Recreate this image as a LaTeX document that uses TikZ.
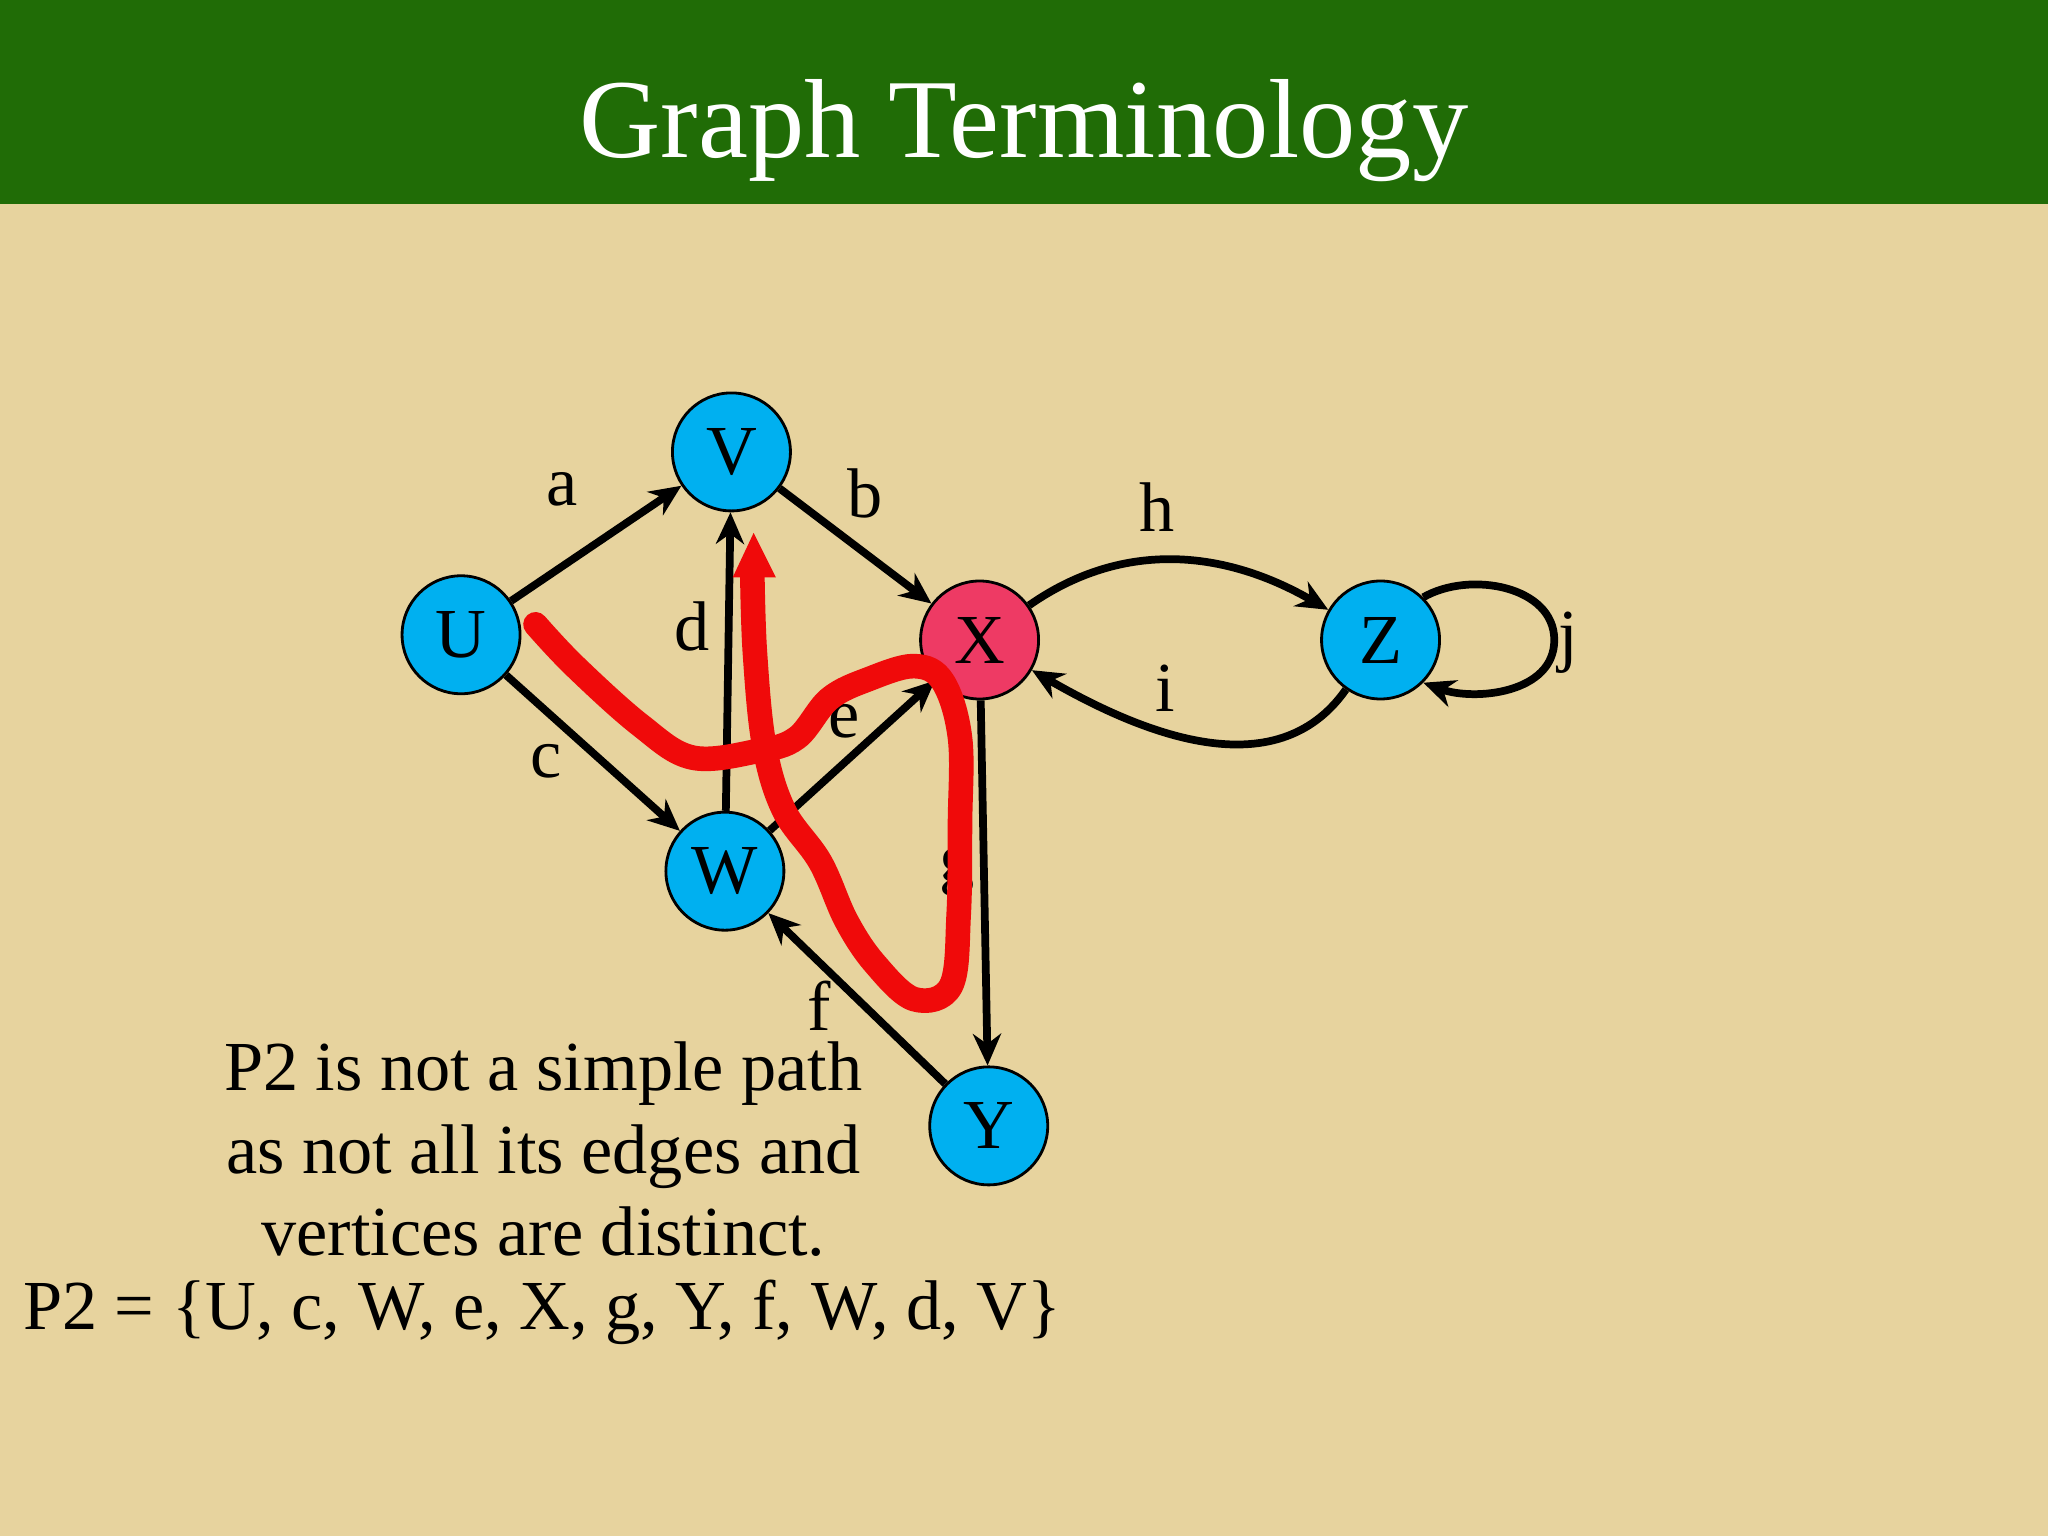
\documentclass[tikz,border=0pt]{standalone}
\usepackage{fontspec}
\setmainfont{Liberation Serif}
\usetikzlibrary{arrows.meta}
\definecolor{bg}{RGB}{231,211,158}
\definecolor{hdr}{RGB}{32,108,6}
\definecolor{vblue}{RGB}{0,176,240}
\definecolor{xred}{RGB}{238,58,100}
\definecolor{pen}{RGB}{240,10,10}
\tikzset{
 vert/.style={circle,draw=black,line width=0.8pt,fill=vblue,minimum size=1.18cm,inner sep=0pt,font=\fontsize{20}{24}\selectfont},
 edge/.style={-{Stealth[length=9pt,width=8pt]},line width=2.2pt},
 lab/.style={font=\fontsize{20}{24}\selectfont},
 txt/.style={font=\fontsize{20}{23.5}\selectfont,align=center}
}
\begin{document}
\begin{tikzpicture}[x=0.01306cm,y=-0.01306cm]
\useasboundingbox (0,0) rectangle (1568,1176);
\fill[bg] (0,0) rectangle (1568,1176);
\fill[hdr] (0,0) rectangle (1568,156);
\node[white,font=\fontsize{32}{38}\selectfont] (title) at (784,100) {Graph Terminology};
\node[vert] (U) at (353,486) {U};
\node[vert] (V) at (560,346) {V};
\node[vert,fill=xred] (X) at (750,490) {X};
\node[vert] (Z) at (1057,490) {Z};
\node[vert] (W) at (555,667) {W};
\node[vert] (Y) at (757,862) {Y};
\draw[edge] (U) -- (V);
\draw[edge] (V) -- (X);
\draw[edge] (U) -- (W);
\draw[edge] (W) -- (V);
\draw[edge] (W) -- (X);
\draw[edge] (X) -- (Y);
\draw[edge] (Y) -- (W);
\draw[edge] (X) to[out=35,in=150] (Z);
\draw[edge] (Z) to[out=-125,in=-30] (X);
\draw[edge] (Z.north east) to[out=30,in=90] (1190,490) to[out=-90,in=-20] (Z.south east);
\node[lab] (la) at (430,375) {a};
\node[lab] (lb) at (662,378) {b};
\node[lab] (lc) at (418,583) {c};
\node[lab] (ld) at (530,480) {d};
\node[lab] (le) at (646,552) {e};
\node[lab] (lf) at (627,770) {f};
\node[lab] (lg) at (733,667) {g};
\node[lab] (lh) at (886,388) {h};
\node[lab] (li) at (892,527) {i};
\node[lab] (lj) at (1201,492) {j};
\draw[pen,line width=7pt,line cap=round,line join=round] plot[smooth,tension=0.6] coordinates {(410,478) (440,510) (490,555) (530,580) (580,575) (610,565) (635,535) (665,520) (700,510) (722,522) (735,565) (735,630) (734,700) (728,755) (700,765) (670,738) (648,705) (628,660) (600,620) (585,570) (578,500) (576,440)};
\fill[pen] (577,408) -- (594,442) -- (561,442) -- cycle;
\node[txt] (t1) at (416,880) {P2 is not a simple path\\as not all its edges and\\vertices are distinct.};
\node[txt] (t2) at (415,1005) {P2 = \{U, c, W, e, X, g, Y, f, W, d, V\}};
\end{tikzpicture}
\end{document}
